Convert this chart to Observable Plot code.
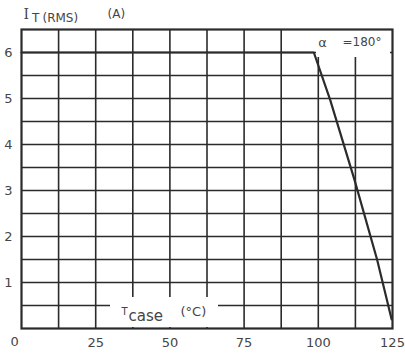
<!DOCTYPE html>
<html><head><meta charset="utf-8">
<script src="https://cdn.jsdelivr.net/npm/d3@7"></script>
<script src="https://cdn.jsdelivr.net/npm/@observablehq/plot@0.6"></script>
<style>html,body{margin:0;background:#fff} svg{display:block}</style>
</head><body><div id="chart"></div>
<script>
// Case temperature (°C) vs RMS on-state current (A), alpha = 180°
const tempC = [0, 98.5, 104, 112.2, 119.8, 124.7];
const currentA = [6, 6, 4.97, 3.23, 1.5, 0.2];
const xTicks = [25, 50, 75, 100, 125];
const yTicks = [1, 2, 3, 4, 5, 6];
const xGrid = [12.5, 25, 37.5, 50, 62.5, 75, 87.5, 100, 112.5];
const yGrid = [0.5, 1, 1.5, 2, 2.5, 3, 3.5, 4, 4.5, 5, 5.5, 6];
const originLabel = ["0"];
const curveLabel = ["α", "=180°"];

const data = tempC.map((t, i) => ({t, a: currentA[i]}));
const ink = "#2b2b2b", txt = "#454545";

const inLabels = [
  {s: curveLabel[0], fa: "top-right", dx: -70, dy: 13, fs: 13, ta: "middle"},
  {s: curveLabel[1], fa: "top-right", dx: -50, dy: 13, fs: 12, ta: "start"},
  {s: "T", fa: "bottom-left", dx: 103, dy: -17, fs: 10, ta: "middle"},
  {s: "case", fa: "bottom-left", dx: 107, dy: -12, fs: 15, ta: "start"},
  {s: "(°C)", fa: "bottom-left", dx: 159, dy: -16.5, fs: 13, ta: "start"}
];
const labelMark = (l) => Plot.text([l.s], {frameAnchor: l.fa, dx: l.dx, dy: l.dy, fontSize: l.fs, textAnchor: l.ta, lineAnchor: "middle", fill: txt});

const chart = Plot.plot({
  width: 405, height: 355,
  marginTop: 29, marginRight: 13, marginBottom: 27, marginLeft: 21,
  style: {fontFamily: "DejaVu Sans", background: "#fff", color: txt},
  x: {domain: [0, 125]},
  y: {domain: [0, 6.5]},
  marks: [
    Plot.gridX(xGrid, {stroke: ink, strokeOpacity: 1, strokeWidth: 1.6}),
    Plot.gridY(yGrid, {stroke: ink, strokeOpacity: 1, strokeWidth: 1.6}),
    // white boxes behind in-frame labels (pixel insets from the frame edges)
    Plot.rect([0], {fill: "white", insetLeft: 295, insetRight: 2, insetTop: 1, insetBottom: 271}),
    Plot.rect([0], {fill: "white", insetLeft: 89, insetRight: 174, insetTop: 268, insetBottom: 1}),
    Plot.frame({stroke: ink, strokeWidth: 2.2}),
    Plot.line(data, {x: "t", y: "a", stroke: ink, strokeWidth: 2.2}),
    ...inLabels.map(labelMark),
    Plot.axisX(xTicks, {tickSize: 0, tickPadding: 9, fontSize: 13, fill: txt, label: null}),
    Plot.axisY(yTicks, {tickSize: 0, tickPadding: 9, fontSize: 13, fill: txt, label: null}),
    Plot.text(originLabel, {frameAnchor: "bottom-left", dx: -11, dy: 13, fontSize: 13, fill: txt, lineAnchor: "middle"}),
    // y-axis title I_T (RMS) (A)
    Plot.text(["I"], {frameAnchor: "top-left", dx: 2, dy: -15, fontSize: 14, fill: txt, lineAnchor: "middle", fontFamily: "DejaVu Serif"}),
    Plot.text(["T"], {frameAnchor: "top-left", dx: 10.5, dy: -11.5, fontSize: 12, fill: txt, lineAnchor: "middle"}),
    Plot.text(["(RMS)"], {frameAnchor: "top-left", dx: 21, dy: -11, fontSize: 12, fill: txt, textAnchor: "start", lineAnchor: "middle"}),
    Plot.text(["(A)"], {frameAnchor: "top-left", dx: 86, dy: -15.5, fontSize: 12, fill: txt, lineAnchor: "middle"})
  ]
});
document.getElementById("chart").append(chart);
</script>
</body></html>
